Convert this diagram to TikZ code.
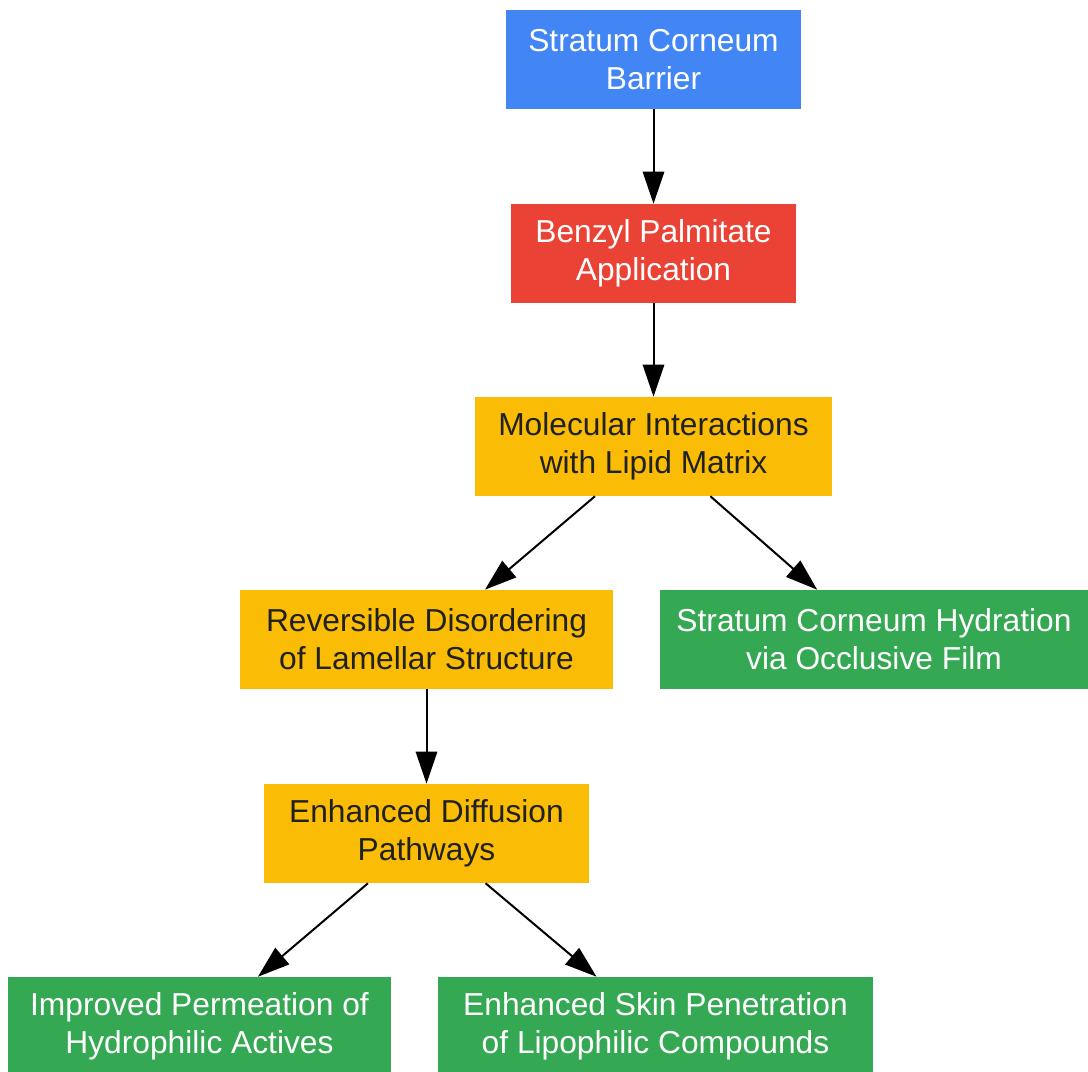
\documentclass[tikz,border=0pt]{standalone}
\usepackage{fontspec}
\setmainfont{Liberation Sans}
\usetikzlibrary{arrows.meta}
\definecolor{gblue}{HTML}{4285F4}
\definecolor{gred}{HTML}{EA4335}
\definecolor{gyellow}{HTML}{FBBC05}
\definecolor{ggreen}{HTML}{34A853}
\definecolor{gtext}{HTML}{202124}
\tikzset{
  box/.style={rectangle,inner sep=0pt,minimum height=74.25pt,align=center,
    font=\fontsize{23.8}{28.5}\selectfont},
  bluebox/.style={box,fill=gblue,text=white},
  redbox/.style={box,fill=gred,text=white},
  yellowbox/.style={box,fill=gyellow,text=gtext},
  greenbox/.style={box,fill=ggreen,text=white},
  link/.style={line width=1.5pt,-{Triangle[length=24pt,width=16pt]}}
}
\begin{document}
\begin{tikzpicture}[x=0.75pt,y=-0.75pt]
		\useasboundingbox (0,0) rectangle (1088,1071);
		\node[bluebox,minimum width=221.25pt] (barrier) at (653.5,59.5) {Stratum Corneum\\Barrier};
		\node[redbox,minimum width=213.75pt] (applic) at (653.5,253.5) {Benzyl Palmitate\\Application};
		\node[yellowbox,minimum width=267.75pt] (interact) at (653.5,446.5) {Molecular Interactions\\with Lipid Matrix};
		\node[yellowbox,minimum width=279.75pt] (disorder) at (426.5,639.5) {Reversible Disordering\\of Lamellar Structure};
		\node[greenbox,minimum width=321pt] (hydration) at (874,639.5) {Stratum Corneum Hydration\\via Occlusive Film};
		\node[yellowbox,minimum width=243.75pt] (diffusion) at (426.5,833.5) {Enhanced Diffusion\\Pathways};
		\node[greenbox,minimum width=287.25pt] (permeation) at (199.5,1026.5) {Improved Permeation of\\Hydrophilic Actives};
		\node[greenbox,minimum width=326.25pt] (penetration) at (655.5,1026.5) {Enhanced Skin Penetration\\of Lipophilic Compounds};
		\draw[link] (barrier) -- (applic);
		\draw[link] (applic) -- (interact);
		\draw[link] (interact) -- (disorder);
		\draw[link] (interact) -- (hydration);
		\draw[link] (disorder) -- (diffusion);
		\draw[link] (diffusion) -- (permeation);
		\draw[link] (diffusion) -- (penetration);
\end{tikzpicture}
\end{document}
